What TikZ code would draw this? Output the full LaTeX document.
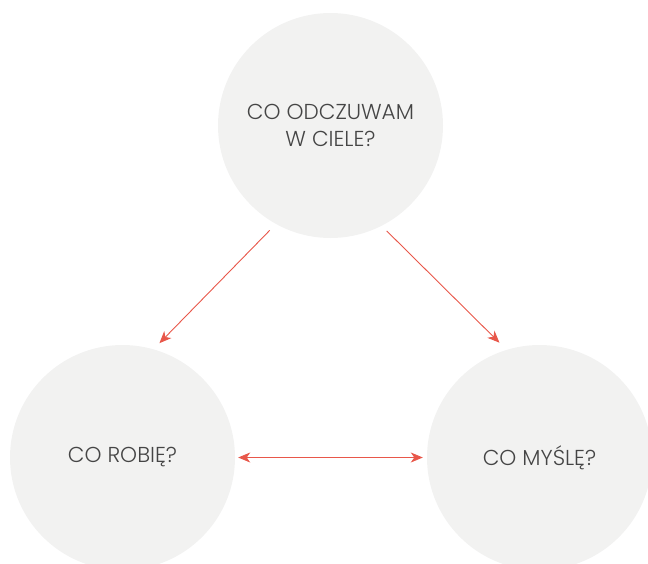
\documentclass[tikz,border=0pt]{standalone}
\usepackage{fontspec}
\setmainfont{Poppins}[UprightFont=* Light]
\usepackage{tikz}
\usetikzlibrary{arrows.meta, positioning}

\definecolor{bubblefill}{HTML}{F2F2F1}
\definecolor{asktext}{HTML}{454545}
\definecolor{linkred}{HTML}{E8574A}

\begin{document}
\begin{tikzpicture}[
    x = 1pt, y = 1pt,
    question/.style = {circle, fill=bubblefill, draw=none, minimum size=225pt, inner sep=0pt, align=center, text=asktext, font=\fontsize{21.6}{27}\selectfont},
    link/.style = {-{Stealth[length=12pt, width=10pt, inset=3.5pt]}, line width=0.9pt, draw=linkred},
    twoway/.style = {{Stealth[length=12pt, width=10pt, inset=3.5pt]}-{Stealth[length=12pt, width=10pt, inset=3.5pt]}, line width=0.9pt, draw=linkred}
]

\useasboundingbox (0,0) rectangle (648,-563);
\clip (0,0) rectangle (648,-563);

% Three questions: body on top, doing and thinking below
\node[question] (body) at (330.5,-125.5) {CO ODCZUWAM\\W CIELE?};
\node[question] (doing) at (122.5,-457.5) {CO ROBIĘ?};
\node[question] (thinking) at (539.5,-457.5) {CO MYŚLĘ?};

% From the body down to the other two
\draw[link, shorten <=8.8pt, shorten >=8.4pt] (body.241.6) -- (doing.74.8);
\draw[link, shorten <=7.1pt, shorten >=10pt] (body.297.1) -- (thinking.107.3);

% Doing and thinking both ways
\draw[twoway, shorten <=3pt, shorten >=4pt] (doing.east) -- (thinking.west);

\end{tikzpicture}
\end{document}
